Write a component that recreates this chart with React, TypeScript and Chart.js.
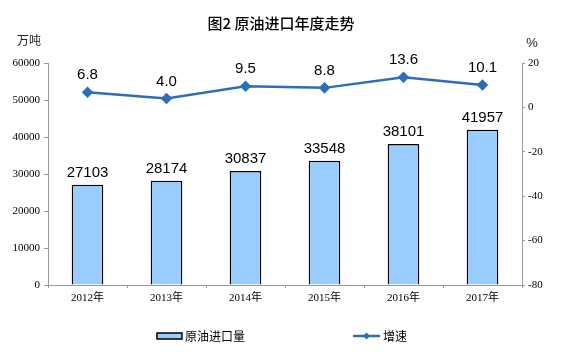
import React, { useEffect, useRef } from "react";
import { Chart, registerables } from "chart.js";

Chart.register(...registerables);

const categories = ["2012年", "2013年", "2014年", "2015年", "2016年", "2017年"];
const importVolume = [27103, 28174, 30837, 33548, 38101, 41957];
const growthRate = [6.8, 4.0, 9.5, 8.8, 13.6, 10.1];
const growthLabels = ["6.8", "4.0", "9.5", "8.8", "13.6", "10.1"];

const titleText = "图2 原油进口年度走势";
const leftUnit = "万吨";
const rightUnit = "%";
const barLegend = "原油进口量";
const lineLegend = "增速";

const BAR_COLOR = "#99CCFF";
const LINE_COLOR = "#2E6DB8";
const CJK = "'Noto Sans CJK SC', sans-serif";

const overlayPlugin = {
  id: "overlay",
  afterDraw(chart: any) {
    const ctx = chart.ctx;
    ctx.save();
    // title
    ctx.fillStyle = "#000";
    ctx.font = `500 15px ${CJK}`;
    ctx.textAlign = "center";
    ctx.textBaseline = "middle";
    ctx.fillText(titleText, 281, 23);
    // units
    ctx.font = `12px ${CJK}`;
    ctx.fillStyle = "#222";
    ctx.fillText(leftUnit, 29, 40);
    ctx.font = "13px 'Liberation Sans', sans-serif";
    ctx.fillText(rightUnit, 532, 43);

    // bar labels
    const barMeta = chart.getDatasetMeta(0);
    ctx.font = "15px 'Liberation Sans', Arial, sans-serif";
    ctx.fillStyle = "#000";
    ctx.textBaseline = "alphabetic";
    barMeta.data.forEach((el: any, i: number) => {
      ctx.fillText(String(importVolume[i]), el.x, el.y - 8);
    });
    const lineMeta = chart.getDatasetMeta(1);
    lineMeta.data.forEach((el: any, i: number) => {
      ctx.fillText(growthLabels[i], el.x, el.y - 13);
    });

    // legend
    const ly = 336;
    ctx.fillStyle = BAR_COLOR;
    ctx.strokeStyle = "#000";
    ctx.lineWidth = 1.5;
    ctx.fillRect(157, ly - 3, 25, 6);
    ctx.strokeRect(157, ly - 3, 25, 6);
    ctx.fillStyle = "#000";
    ctx.font = `12px ${CJK}`;
    ctx.textAlign = "left";
    ctx.textBaseline = "middle";
    ctx.fillText(barLegend, 185, ly);

    ctx.strokeStyle = LINE_COLOR;
    ctx.lineWidth = 2.5;
    ctx.beginPath();
    ctx.moveTo(353, ly);
    ctx.lineTo(380, ly);
    ctx.stroke();
    ctx.fillStyle = LINE_COLOR;
    ctx.beginPath();
    ctx.moveTo(366.5, ly - 3.5);
    ctx.lineTo(370, ly);
    ctx.lineTo(366.5, ly + 3.5);
    ctx.lineTo(363, ly);
    ctx.closePath();
    ctx.fill();
    ctx.fillStyle = "#000";
    ctx.fillText(lineLegend, 383, ly);
    ctx.restore();
  },
};

export default function App() {
  const ref = useRef<HTMLCanvasElement>(null);
  useEffect(() => {
    document.body.style.margin = "0";
    const chart = new Chart(ref.current as HTMLCanvasElement, {
      type: "bar",
      data: {
        labels: categories,
        datasets: [
          {
            type: "bar",
            label: barLegend,
            data: importVolume,
            backgroundColor: BAR_COLOR,
            borderColor: "#000",
            borderWidth: 1.5,
            yAxisID: "y",
            categoryPercentage: 1,
            barPercentage: 0.4,
            order: 2,
          },
          {
            type: "line",
            label: lineLegend,
            data: growthRate,
            borderColor: LINE_COLOR,
            backgroundColor: LINE_COLOR,
            borderWidth: 2.5,
            pointStyle: "rectRot",
            pointRadius: 4,
            yAxisID: "y1",
            order: 1,
          } as any,
        ],
      },
      options: {
        responsive: false,
        animation: false,
        layout: { padding: { top: 63, left: 0, right: 0, bottom: 0 } },
        plugins: {
          legend: { display: false },
          title: { display: false },
          tooltip: { enabled: false },
        },
        scales: {
          x: {
            offset: true,
            grid: {
              drawOnChartArea: false,
              drawTicks: true,
              tickLength: 3,
              offset: true,
              color: "#999",
            },
            border: { color: "#999" },
            ticks: {
              color: "#000",
              font: { family: "'Liberation Serif', 'Noto Sans CJK SC', serif", size: 11 },
              padding: 4,
            },
            afterFit(scale: any) {
              scale.height = 68;
            },
          },
          y: {
            position: "left",
            min: 0,
            max: 60000,
            ticks: {
              stepSize: 10000,
              color: "#000",
              font: { family: "'Liberation Serif', serif", size: 11 },
              padding: 4,
              callback: (v: any) => String(v),
            },
            grid: { drawOnChartArea: false, tickLength: 4, color: "#999" },
            border: { color: "#999" },
            afterFit(scale: any) {
              scale.width = 48;
            },
          },
          y1: {
            position: "right",
            min: -80,
            max: 20,
            ticks: {
              stepSize: 20,
              color: "#000",
              font: { family: "'Liberation Serif', serif", size: 11 },
              padding: 3,
              callback: (v: any) => String(v),
            },
            grid: { drawOnChartArea: false, tickLength: 3, color: "#999" },
            border: { color: "#999" },
            afterFit(scale: any) {
              scale.width = 41;
            },
          },
        },
      },
      plugins: [overlayPlugin],
    });
    return () => chart.destroy();
  }, []);
  return (
    <div style={{ width: 563, height: 353 }}>
      <canvas ref={ref} width={563} height={353} />
    </div>
  );
}
